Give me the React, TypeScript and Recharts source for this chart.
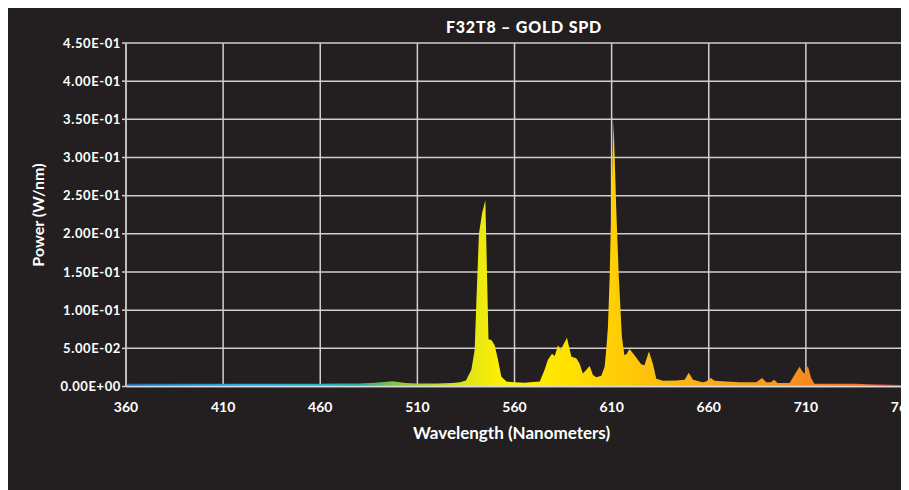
import { Area, AreaChart, CartesianGrid, XAxis, YAxis } from 'recharts';

// wavelength (nm) and power (W/nm)
const wavelengths = [
  360, 380, 400, 420, 440, 460, 470, 480, 488, 493, 497, 500, 504, 510, 520, 528, 532, 535,
  537.8, 539.5, 540.5, 541.7, 543.3, 545, 546.6, 548.1, 549.8, 551.5, 553.2, 555.8, 560, 565,
  568, 573, 575.5, 577.2, 579.3, 580.7, 582.4, 583.8, 587, 589.3, 591.8, 593.5, 595.2, 597,
  598.7, 600.4, 602.1, 604.7, 606.4, 607.3, 608.1, 609, 609.8, 611, 612.4, 613.7, 615.3, 616.6,
  617.8, 619.2, 621.8, 625.2, 626.9, 629.2, 631.2, 633, 636.4, 643.3, 647.6, 649.7, 651.9,
  655.3, 657, 658.7, 661, 663, 669, 676, 684.4, 687.5, 689.6, 692, 693.6, 695.5, 701.6, 704.1,
  706.7, 708.4, 709.3, 711, 712.7, 714.4, 725, 736, 742, 750, 760,
];
const power = [
  0.0035, 0.0035, 0.0035, 0.0035, 0.0035, 0.0035, 0.0038, 0.004, 0.005, 0.006, 0.0068, 0.006, 0.0045,
  0.004, 0.004, 0.0045, 0.0055, 0.008, 0.022, 0.048, 0.12, 0.2, 0.227, 0.244, 0.062, 0.061, 0.054,
  0.035, 0.013, 0.0065, 0.0055, 0.005, 0.0055, 0.0065, 0.022, 0.035, 0.043, 0.04, 0.054, 0.048,
  0.064, 0.039, 0.037, 0.03, 0.017, 0.022, 0.027, 0.015, 0.012, 0.014, 0.026, 0.05, 0.078,
  0.144, 0.231, 0.347, 0.231, 0.144, 0.065, 0.041, 0.043, 0.049, 0.041, 0.029, 0.028, 0.046,
  0.03, 0.01, 0.0075, 0.008, 0.009, 0.018, 0.009, 0.0065, 0.0055, 0.0065, 0.011, 0.0075, 0.0065,
  0.0055, 0.0055, 0.011, 0.0055, 0.0055, 0.009, 0.0045, 0.0045, 0.015, 0.026, 0.019, 0.017, 0.027,
  0.011, 0.0035, 0.0035, 0.0035, 0.003, 0.0025, 0.002,
];

const xTicks = [360, 410, 460, 510, 560, 610, 660, 710, 760];
const yTicks = [0, 0.05, 0.1, 0.15, 0.2, 0.25, 0.3, 0.35, 0.4, 0.45];

// spectrum colours for the fill, by wavelength
const stopWavelengths = [360, 420, 460, 480, 500, 530, 555, 590, 615, 650, 700, 740, 760];
const stopColors = [
  '#1c6fb5', '#27a9e1', '#1eb4c8', '#20b09a', '#8cc63f', '#d9e021', '#fff200', '#ffe000',
  '#ffcb05', '#fbb316', '#f7941d', '#f26b2a', '#ec1c24',
];

const data = wavelengths.map((nm, i) => ({ nm, p: power[i] }));

function sci(v: number): string {
  if (v === 0) return '0.00E+00';
  const exp = Math.floor(Math.log10(v) + 1e-9);
  const mant = v / Math.pow(10, exp);
  const sign = exp < 0 ? '-' : '+';
  return `${mant.toFixed(2)}E${sign}${String(Math.abs(exp)).padStart(2, '0')}`;
}

const font = 'Lato, "Open Sans", sans-serif';

export default function App() {
  return (
    <div style={{ position: 'relative', width: 901, height: 482, background: '#231f20', fontFamily: font, color: '#fff' }}>
      <div style={{ position: 'absolute', left: 516, top: 11, transform: 'translateX(-50%)', fontSize: 16, lineHeight: '16px', fontWeight: 900, letterSpacing: 0.8, whiteSpace: 'nowrap' }}>
        F32T8 – GOLD SPD
      </div>
      <AreaChart width={901} height={482} data={data} margin={{ top: 35, right: 6, left: 0, bottom: 0 }}>
        <defs>
          <linearGradient id="spd" x1="0" y1="0" x2="1" y2="0">
            {stopWavelengths.map((w, i) => (
              <stop key={w} offset={`${((w - 360) / 400) * 100}%`} stopColor={stopColors[i]} />
            ))}
          </linearGradient>
        </defs>
        <CartesianGrid stroke="#cfcfcf" strokeWidth={1.5} />
        <XAxis
          dataKey="nm" type="number" domain={[360, 760]} ticks={xTicks} interval={0}
          height={103.5} tickLine={false} tickSize={0} tickMargin={16}
          axisLine={{ stroke: '#d9d9d9', strokeWidth: 1.5 }}
          tick={{ fill: '#fff', fontSize: 14, fontWeight: 700, fontFamily: font }}
        />
        <YAxis
          type="number" domain={[0, 0.45]} ticks={yTicks} interval={0} width={118}
          tickSize={4} tickMargin={1} tickFormatter={(v: number) => sci(v)}
          tickLine={{ stroke: '#cfcfcf', strokeWidth: 1.5 }}
          axisLine={{ stroke: '#bdbdbd', strokeWidth: 2 }}
          tick={{ fill: '#fff', fontSize: 13, fontWeight: 700, fontFamily: font, letterSpacing: 0.6 }}
        />
        <Area type="linear" dataKey="p" stroke="none" fill="url(#spd)" fillOpacity={1} isAnimationActive={false} />
      </AreaChart>
      <div style={{ position: 'absolute', left: 30, top: 206.5, transform: 'translate(-50%, -50%) rotate(-90deg)', fontSize: 16, lineHeight: '16px', fontWeight: 700, whiteSpace: 'nowrap' }}>
        Power (W/nm)
      </div>
      <div style={{ position: 'absolute', left: 503.5, top: 416, transform: 'translateX(-50%)', fontSize: 17, lineHeight: '17px', fontWeight: 700, whiteSpace: 'nowrap' }}>
        Wavelength (Nanometers)
      </div>
    </div>
  );
}
